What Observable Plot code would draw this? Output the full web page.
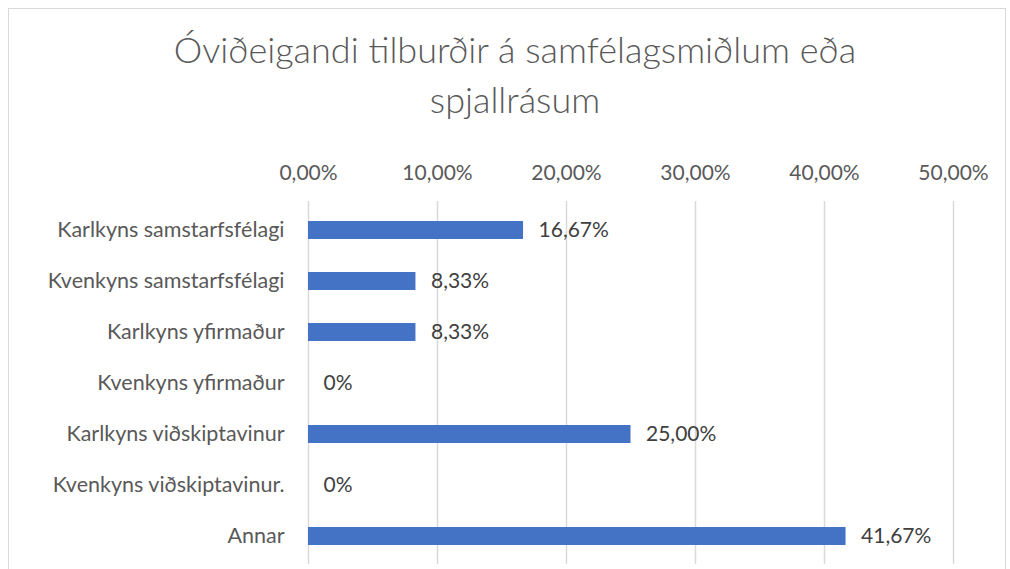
<!DOCTYPE html>
<html>
<head>
<meta charset="utf-8">
<script src="https://cdn.jsdelivr.net/npm/d3@7"></script>
<script src="https://cdn.jsdelivr.net/npm/@observablehq/plot@0.6"></script>
<style>
  html, body { margin: 0; padding: 0; background: #fff; width: 1010px; height: 569px; overflow: hidden; }
  #frame { position: absolute; left: 8px; top: 8px; width: 998px; height: 600px; border: 1px solid #d9d9d9; box-sizing: border-box; }
  #title { position: absolute; left: 0; top: 24px; width: 1030px; text-align: center; font-family: Lato, sans-serif; font-weight: 300; font-size: 36px; line-height: 50px; color: #595959; }
  #chart { position: absolute; left: 0; top: 140px; }
</style>
</head>
<body>
<div id="frame"></div>
<div id="title">Óviðeigandi tilburðir á samfélagsmiðlum eða<br>spjallrásum</div>
<div id="chart"></div>
<script>
const categories = [
  "Karlkyns samstarfsfélagi",
  "Kvenkyns samstarfsfélagi",
  "Karlkyns yfirmaður",
  "Kvenkyns yfirmaður",
  "Karlkyns viðskiptavinur",
  "Kvenkyns viðskiptavinur.",
  "Annar"
];
const values = [16.67, 8.33, 8.33, 0, 25.00, 0, 41.67];
const xTicks = [0, 10, 20, 30, 40, 50];

const data = categories.map((c, i) => ({category: c, value: values[i]}));
const fmtTick = v => v.toFixed(2).replace(".", ",") + "%";
const fmtLabel = v => v === 0 ? "0%" : v.toFixed(2).replace(".", ",") + "%";

const plot = Plot.plot({
  width: 1010,
  height: 429,
  marginLeft: 308,
  marginRight: 57,
  marginTop: 61,
  marginBottom: 5,
  style: { fontFamily: "Lato, sans-serif", fontSize: "21px", color: "#595959", background: "transparent" },
  x: { domain: [0, 50], ticks: xTicks, axis: null, label: null },
  y: { domain: categories, paddingInner: 0.65, paddingOuter: 0.325, axis: null, label: null },
  marks: [
    Plot.gridX(xTicks, { stroke: "#d9d9d9", strokeOpacity: 1, strokeWidth: 1.5 }),
    Plot.axisX(xTicks, { anchor: "top", label: null, tickSize: 0, tickPadding: 22, tickFormat: fmtTick, fontSize: 21, fill: "#595959" }),
    Plot.axisY({ anchor: "left", label: null, tickSize: 0, tickPadding: 24, fontSize: 21.5, fill: "#595959" }),
    Plot.barX(data, { x: "value", y: "category", fill: "#4472C4" }),
    Plot.text(data, { x: "value", y: "category", text: d => fmtLabel(d.value), textAnchor: "start", dx: 15, fontSize: 21, fill: "#404040" })
  ]
});
document.getElementById("chart").appendChild(plot);
</script>
</body>
</html>
